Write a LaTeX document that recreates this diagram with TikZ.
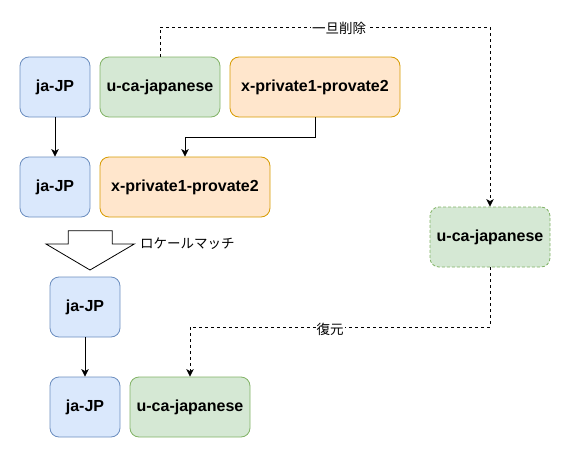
\documentclass[tikz,border=0pt]{standalone}
\usepackage{fontspec}
\setmainfont{Liberation Sans}
\newfontfamily\jp{Noto Sans CJK JP}
\usetikzlibrary{arrows.meta}
\definecolor{bluefill}{HTML}{DAE8FC}
\definecolor{bluedraw}{HTML}{6C8EBF}
\definecolor{greenfill}{HTML}{D5E8D4}
\definecolor{greendraw}{HTML}{82B366}
\definecolor{orangefill}{HTML}{FFE6CC}
\definecolor{orangedraw}{HTML}{D79B00}
\tikzset{
  box/.style={rounded corners=9pt, minimum height=60pt, inner sep=0pt, line width=0.8pt,
    font=\bfseries\fontsize{16}{19}\selectfont},
  bluebox/.style={box, fill=bluefill, draw=bluedraw, minimum width=70pt},
  greenbox/.style={box, fill=greenfill, draw=greendraw, minimum width=120pt},
  orangebox/.style={box, fill=orangefill, draw=orangedraw, minimum width=170pt},
  arr/.style={line width=0.8pt, -{Stealth[length=7.5pt,width=7.5pt,inset=2pt]}},
  dasharr/.style={arr, dash pattern=on 3pt off 3pt},
  lbl/.style={font=\jp\fontsize{13.5}{16}\selectfont, inner sep=1pt},
}
\begin{document}
\begin{tikzpicture}[x=1pt,y=-1pt]
\useasboundingbox (0,0) rectangle (571,458);
\node[bluebox] (jp1) at (55,87) {ja-JP};
\node[greenbox] (uca1) at (160,87) {u-ca-japanese};
\node[orangebox] (xp1) at (315,87) {x-private1-provate2};
\node[bluebox] (jp2) at (55,187) {ja-JP};
\node[orangebox] (xp2) at (185,187) {x-private1-provate2};
\node[greenbox, dash pattern=on 3pt off 2pt] (ucaR) at (490,237) {u-ca-japanese};
\node[bluebox] (jp3) at (85,307) {ja-JP};
\node[bluebox] (jp4) at (85,407) {ja-JP};
\node[greenbox] (uca4) at (190,407) {u-ca-japanese};

\draw[arr] (jp1.south) -- (jp2.north);
\coordinate (k1) at (315,137);
\draw[arr] (xp1.south) -- (k1) -| (xp2.north);
\coordinate (k2) at (160,27);
\draw[dasharr] (uca1.north) -- (k2) -| (ucaR.north);
\node[lbl, fill=white] (l1) at (339,28) {一旦削除};
\coordinate (k3) at (190,327);
\draw[dasharr] (ucaR.south) |- (k3) -- (uca4.north);
\node[lbl, fill=white] (l2) at (330,329) {復元};
\draw[arr] (jp3.south) -- (jp4.north);

\draw[line width=0.8pt, fill=white, line join=miter]
  (68.3,230.7) -- (112.3,230.7) -- (112.3,244) -- (134.3,244) -- (90,270)
  -- (46,244) -- (68.3,244) -- cycle;
\node[lbl, anchor=west] (l3) at (139,244) {ロケールマッチ};
\end{tikzpicture}
\end{document}
